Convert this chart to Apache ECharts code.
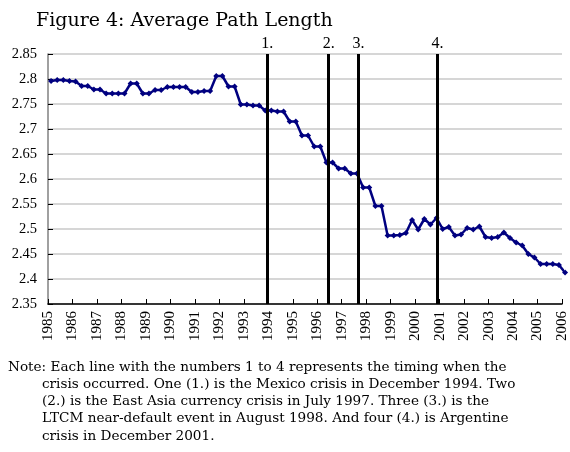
<!DOCTYPE html>
<html>
<head>
<meta charset="utf-8">
<script src="https://cdn.jsdelivr.net/npm/echarts@6/dist/echarts.min.js"></script>
<style>html,body{margin:0;padding:0;background:#fff;}#c{width:570px;height:452px;}</style>
</head>
<body>
<div id="c"></div>
<script>
// Quarterly observations, first at 1985 Q1 (plotted at 1985.125), step 0.25 year
const firstQuarterX = 1985.125;
const quarterStep = 0.25;
const pathLength = [
  2.796, 2.798, 2.798, 2.796, 2.795, 2.786, 2.786, 2.779, 2.779, 2.771,
  2.771, 2.771, 2.771, 2.791, 2.791, 2.771, 2.771, 2.778, 2.778, 2.784,
  2.784, 2.784, 2.784, 2.774, 2.774, 2.776, 2.776, 2.806, 2.806, 2.785,
  2.785, 2.749, 2.749, 2.747, 2.747, 2.737, 2.737, 2.735, 2.735, 2.715,
  2.715, 2.687, 2.687, 2.665, 2.665, 2.633, 2.633, 2.621, 2.621, 2.611,
  2.611, 2.583, 2.583, 2.546, 2.546, 2.487, 2.487, 2.488, 2.492, 2.518,
  2.499, 2.520, 2.509, 2.522, 2.500, 2.504, 2.487, 2.489, 2.502, 2.499,
  2.505, 2.484, 2.482, 2.484, 2.493, 2.482, 2.473, 2.467, 2.450, 2.443,
  2.430, 2.430, 2.430, 2.428, 2.413
];
const crisisX = [1993.96, 1996.47, 1997.69, 2000.91];
const crisisLabels = ['1.', '2.', '3.', '4.'];
const yTicks = [2.35, 2.85, 0.05]; // min, max, interval
const xYears = [1985, 2006];
const titleText = 'Figure 4: Average Path Length';
const noteLines = [
  'Note: Each line with the numbers 1 to 4 represents the timing when the',
  'crisis occurred. One (1.) is the Mexico crisis in December 1994. Two',
  '(2.) is the East Asia currency crisis in July 1997. Three (3.) is the',
  'LTCM near-default event in August 1998. And four (4.) is Argentine',
  'crisis in December 2001.'
];

const seriesData = pathLength.map((v, i) => [firstQuarterX + i * quarterStep, v]);
const serif = '"Liberation Serif", "Times New Roman", serif';
const wideSerif = '"DejaVu Serif", serif';

const noteGraphics = noteLines.map((t, i) => ({
  type: 'text',
  left: i === 0 ? 8 : 42,
  top: 360 + i * 17.3,
  style: { text: t, font: '13.6px ' + wideSerif, fill: '#000' }
}));

const chart = echarts.init(document.getElementById('c'), null, { renderer: 'canvas' });
chart.setOption({
  animation: false,
  backgroundColor: '#fff',
  title: {
    text: titleText,
    left: 31, top: 7,
    textStyle: { fontFamily: wideSerif, fontSize: 19, fontWeight: 'normal', color: '#000' }
  },
  grid: { left: 48, right: 8, top: 54, bottom: 148, containLabel: false },
  xAxis: {
    type: 'value',
    min: xYears[0], max: xYears[1], interval: 1,
    axisLine: { show: true, lineStyle: { color: '#000', width: 1.5 } },
    axisTick: { show: true, inside: true, length: 5, lineStyle: { color: '#000', width: 1 } },
    axisLabel: { rotate: 90, margin: 7, fontFamily: serif, fontSize: 15, color: '#000', formatter: v => String(v) },
    splitLine: { show: false }
  },
  yAxis: {
    type: 'value',
    min: yTicks[0], max: yTicks[1], interval: yTicks[2],
    axisLine: { show: true, lineStyle: { color: '#808080', width: 1.5 } },
    axisTick: { show: true, inside: true, length: 5, lineStyle: { color: '#000', width: 1 } },
    axisLabel: { margin: 11, fontFamily: serif, fontSize: 14.5, color: '#000',
      formatter: v => String(Math.round(v * 100) / 100) },
    splitLine: { show: true, lineStyle: { color: '#c8c8c8', width: 1.5 } }
  },
  series: [{
    type: 'line',
    data: seriesData,
    clip: false,
    symbol: 'diamond',
    symbolSize: 6,
    itemStyle: { color: '#000080' },
    lineStyle: { color: '#000080', width: 2.5 },
    markLine: {
      silent: true,
      symbol: 'none',
      lineStyle: { color: '#000', width: 3, type: 'solid' },
      label: { show: true, position: 'end', distance: 2, color: '#000', fontFamily: serif, fontSize: 16,
        formatter: p => p.name },
      data: crisisX.map((x, i) => ({ xAxis: x, name: crisisLabels[i] }))
    }
  }],
  graphic: noteGraphics
});
</script>
</body>
</html>
